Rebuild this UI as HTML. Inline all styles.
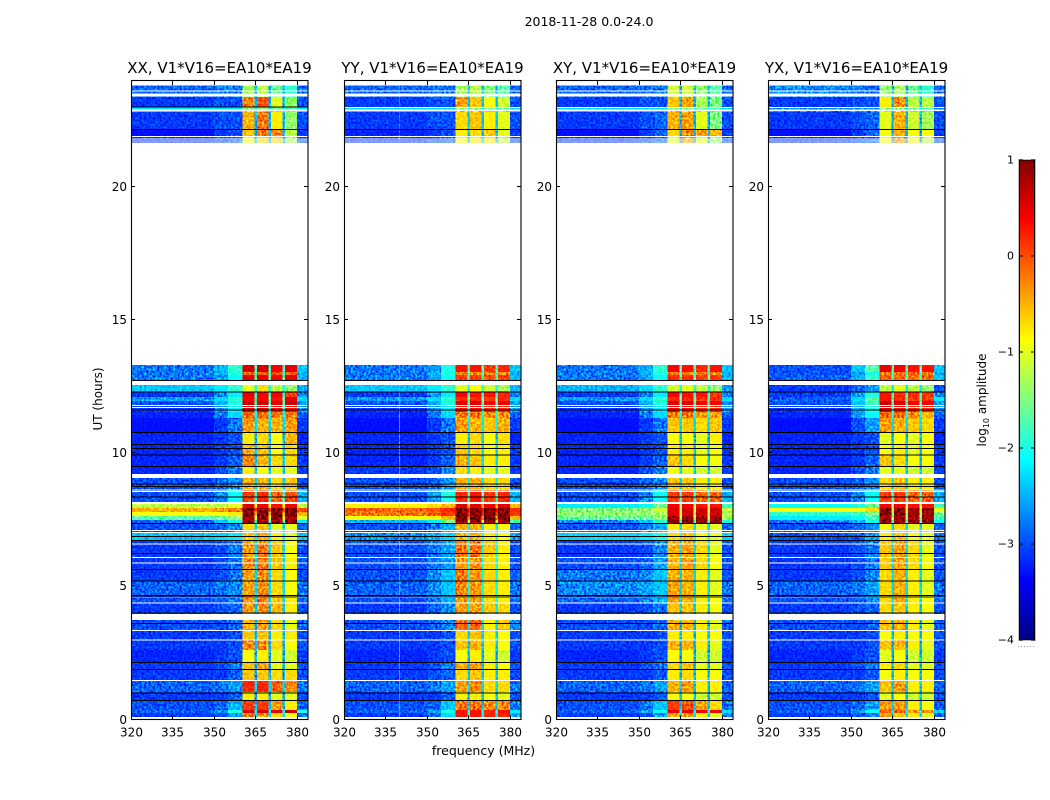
<!DOCTYPE html>
<html lang="en">
<head>
<meta charset="utf-8">
<title>2018-11-28 amplitude waterfall</title>
<style>
html,body{margin:0;padding:0;background:#fff;width:1050px;height:800px;overflow:hidden}
svg{display:block}
text{font-family:"DejaVu Sans","Liberation Sans",sans-serif;fill:#000}
</style>
</head>
<body>
<svg id="chart" xmlns="http://www.w3.org/2000/svg" width="1050" height="800" viewBox="0 0 1050 800">
<defs>
<filter id="speckle" x="0" y="0" width="100%" height="100%" color-interpolation-filters="sRGB">
<feTurbulence type="fractalNoise" baseFrequency="0.45" numOctaves="1" seed="3"/>
<feColorMatrix type="matrix" values="2 0 0 0 -0.5  2 0 0 0 -0.5  2 0 0 0 -0.5  0 0 0 0 1"/>
</filter>
</defs>
<rect x="0" y="0" width="1050" height="800" fill="#fff"/>
<text x="589" y="26" font-size="12.5" text-anchor="middle">2018-11-28 0.0-24.0</text>
<text x="483.5" y="755" font-size="12.5" text-anchor="middle">frequency (MHz)</text>
<text x="0" y="0" font-size="12" text-anchor="middle" transform="translate(102,399) rotate(-90)">UT (hours)</text>
<text x="0" y="0" font-size="12" text-anchor="middle" transform="translate(986,400) rotate(-90)">log<tspan font-size="8" dy="3">10</tspan><tspan dy="-3"> amplitude</tspan></text>
<g id="panels"></g>
<g id="colorbar"></g>
</svg>
<script>
// Time bands (UT hours), one more edge than rows
const timeEdges = [0,.24,.36,.73,1.03,1.45,1.90,2.16,2.61,2.99,3.36,3.74,4.04,4.38,4.68,5.21,5.66,6.11,6.75,7.05,7.39,7.50,7.65,7.80,7.95,8.10,8.63,9.08,9.53,9.98,10.36,10.81,11.33,11.56,11.82,11.97,12.12,12.33,12.58,12.95,13.06,13.33,21.65,21.94,22.16,22.84,23.03,23.40,23.83];
// Frequency bands (MHz), one more edge than columns
const freqEdges = [320,350,355,360.4,364.7,365.6,369.7,370.6,374.7,375.6,380,384];
// Which value in a row feeds each frequency band: bg, rise1, rise2, sb1, notch, sb2, notch, sb3, notch, sb4, outer
const bandValueIndex = [0,1,2,3,8,4,8,5,8,6,7];
const panelTitles = ["XX, V1*V16=EA10*EA19","YY, V1*V16=EA10*EA19","XY, V1*V16=EA10*EA19","YX, V1*V16=EA10*EA19"];
const xTicks = [320,335,350,365,380];
const yTicks = [0,5,10,15,20];
const cbarTicks = [1,0,-1,-2,-3,-4];
// Flagged (no data) intervals, hours
const whiteFlags = [[0,.1],[1.44,1.48],[2.97,3.01],[3.32,3.36],[3.74,3.97],[4.36,4.39],[4.58,4.61],[5.88,5.91],[6.08,6.11],[6.59,6.62],[7.01,7.05],[7.10,7.13],[8.10,8.18],[8.56,8.58],[8.61,8.64],[9.07,9.23],[11.71,11.75],[11.78,11.82],[12.58,12.73],[21.65,21.68],[21.73,21.77],[21.80,21.84],[21.89,21.93],[22.88,22.92],[23.42,23.53],[23.60,23.64]];
// Zero-amplitude integrations, hours
const blackFlags = [.73,1.02,1.90,2.17,3.63,4.02,4.62,4.68,5.22,5.65,6.25,6.75,6.90,7.38,8.38,8.78,8.88,9.53,9.97,10.20,10.35,10.80,11.66,12.32,12.76,22.19];
// Intervals flagged only in some panels: XX, YY, XY, YX
const panelWhiteExtra = [[],[[22.98,23.02]],[[22.98,23.02]],[[22.98,23.02]]];
const panelBlackExtra = [[23.04],[],[],[]];
// Single hot channel: YY panel only, MHz and log amplitude
const yyHotChannel = [339.9,-2.2];

// log10 amplitude per time band: bg, rise1, rise2, sb1, sb2, sb3, sb4, outer, notch
const xxRows = [
[-3.1,-3,-2.6,-.2,-.3,-.7,-.9,-2.8,-2.3],
[-2.9,-2.6,-2,.5,.5,.5,.6,-2,-2.1],
[-3,-2.9,-2.5,.1,.1,-.4,-.8,-2.9,-2.5],
[-3.1,-3.1,-2.95,-.8,-.8,-1,-1,-3,-2.6],
[-2.9,-2.8,-2.6,.2,.2,-.1,-.3,-2.8,-2.3],
[-3.1,-3.1,-2.9,-.6,-.6,-.7,-.7,-3,-2.6],
[-3.1,-3,-2.8,-.6,-.4,-1,-1,-3,-2.5],
[-3.2,-3.1,-3,-.9,-.8,-1,-1.1,-3.1,-2.6],
[-3.1,-3.1,-3,-.3,-.3,-.7,-.9,-3,-2.5],
[-3.1,-3.1,-3,-.6,-.6,-.8,-.8,-3,-2.5],
[-3,-3,-2.9,-.5,-.4,-.7,-1,-2.9,-2.5],
[-3,-3,-2.9,-.5,-.4,-.7,-.9,-2.9,-2.5],
[-3.1,-3,-2.9,-.4,-.3,-.5,-.8,-3,-2.4],
[-3,-2.9,-2.8,-.3,-.2,-.6,-.8,-2.9,-2.3],
[-2.9,-2.8,-2.7,-.4,-.3,-.7,-.9,-2.8,-2.3],
[-3.1,-3,-2.8,-.4,-.3,-.7,-.9,-3,-2.3],
[-3.1,-3,-2.8,-.3,-.2,-.6,-.8,-3,-2.3],
[-3.1,-3,-2.8,-.4,-.2,-.6,-.9,-3,-2.3],
[-2.4,-2.3,-2.2,-.6,-.5,-.8,-1,-2.4,-2.1],
[-3,-2.9,-2.7,-.7,-.6,-1,-1,-2.9,-2.3],
[-2.9,-2.4,-2,.9,.9,.9,.9,-2.2,-1.8],
[-1.7,-1.6,-1.4,.8,.9,.9,.8,-1,-1],
[-.9,-.9,-.8,1,1,1,1,-.5,-.5],
[-.5,-.4,-.2,1,1,1,1,0,0],
[-1.2,-1.2,-1,.5,.4,.3,.4,-1.2,-1],
[-3,-2.7,-2.1,.1,.2,-.1,0,-2.5,-1.9],
[-3,-2.9,-2.7,-.5,-.5,-.7,-.6,-3,-2.3],
[-3.2,-3,-2.8,-.8,-.9,-1,-1,-3.1,-2.4],
[-3.2,-3.1,-2.9,-.3,-.5,-.7,-.7,-3.1,-2.4],
[-3.2,-3.1,-3,-.5,-.6,-.9,-.7,-3.1,-2.4],
[-3.2,-3.1,-3,-.8,-.7,-.9,-.5,-3.2,-2.5],
[-3.3,-3.1,-2.8,-.4,-.5,-.5,-.4,-3.1,-2.3],
[-3.2,-2.8,-2.3,-.1,-.1,-.2,-.2,-2.9,-2.1],
[-3.1,-2.6,-2.2,.5,.5,.3,.3,-2.6,-1.9],
[-3,-2.5,-2,.6,.6,.5,.6,-2.6,-1.8],
[-2.6,-2.3,-1.9,.4,.4,.3,.5,-2.3,-1.7],
[-3.1,-2.7,-2.2,.5,.4,.4,.1,-2.7,-1.9],
[-2.4,-2.2,-1.9,-1,-.7,-1.2,-1.4,-2.5,-2],
[-2.8,-2.6,-2.1,.5,.5,.4,.5,-2.5,-1.7],
[-2.8,-2.5,-2,-.1,-.1,0,-.1,-2.5,-1.9],
[-2.8,-2.5,-1.9,.6,.6,.4,.5,-2.4,-1.8],
null,
[-3.1,-3,-2.9,-.9,-.7,-.7,-1.3,-3,-2.5],
[-3.3,-3.1,-3,-.6,-.2,-.3,-1.2,-3.1,-2.5],
[-3.1,-3,-3,-.5,-.2,-.8,-1.4,-3,-2.5],
[-2.2,-2.2,-2.2,-1.4,-1.4,-1.6,-1.7,-2.2,-2.1],
[-3.1,-3,-3,-.3,0,-1,-1.4,-3,-2.5],
[-2.9,-2.8,-2.8,-1.3,-1.2,-1.6,-1.9,-2.9,-2.5]
];
const yyRows = [
[-3.1,-2.9,-2.3,.3,.3,.2,.2,-2.6,-2.2],
[-2.9,-2.6,-2,.3,.3,.2,.3,-2.2,-2],
[-3,-2.9,-2.4,-.2,-.2,-.3,-.3,-2.8,-2.4],
[-3.1,-3.1,-2.95,-.8,-.8,-.9,-1,-3,-2.5],
[-2.9,-2.8,-2.6,-.4,-.3,-.7,-.7,-2.8,-2.3],
[-3.1,-3,-2.9,-.7,-.6,-.8,-.8,-3,-2.4],
[-3.1,-3,-2.8,-.5,-.4,-.8,-.9,-3,-2.4],
[-3.2,-3.1,-3,-.9,-.8,-1,-1.1,-3.1,-2.5],
[-3.1,-3.1,-3,-.6,-.5,-.8,-.9,-3,-2.4],
[-3.1,-3.1,-3,-.7,-.6,-.8,-.9,-3,-2.4],
[-3,-2.9,-2.7,-.1,-.1,-.8,-.6,-2.7,-2.3],
[-3,-2.9,-2.7,-.3,-.3,-.6,-.8,-2.9,-2.3],
[-3.1,-2.9,-2.7,-.4,-.4,-.6,-.7,-3,-2.2],
[-3,-2.8,-2.5,-.4,-.4,-.7,-.8,-2.9,-2.1],
[-2.9,-2.7,-2.4,-.3,-.4,-.7,-.8,-2.8,-2.1],
[-3,-2.7,-2.4,-.2,-.4,-.7,-.8,-2.9,-2.1],
[-3,-2.8,-2.6,-.4,-.3,-.7,-.8,-3,-2.1],
[-3,-2.8,-2.6,-.2,-.2,-.6,-.8,-3,-2.1],
[-2.7,-2.5,-2.3,-.5,-.5,-.8,-.9,-2.6,-2],
[-3,-2.8,-2.5,-.5,-.5,-.8,-.9,-2.9,-2.2],
[-2.5,-2.2,-1.5,.9,.9,.9,.9,-1.8,-1.2],
[-.9,-.8,-.5,1,1,1,1,-.5,-.3],
[-.2,-.1,.1,1,1,1,1,.1,.2],
[-.1,0,.2,1,1,1,1,.2,.3],
[-.8,-.7,-.5,.5,.5,.4,.5,-.6,-.5],
[-3,-2.6,-2,.2,.3,.1,.2,-2.5,-1.8],
[-3,-2.9,-2.6,-.5,-.5,-.7,-.7,-3,-2.2],
[-3.1,-3,-2.7,-.7,-.8,-1,-1,-3.1,-2.3],
[-3.2,-3.1,-2.9,-.5,-.6,-.8,-.8,-3.1,-2.3],
[-3.2,-3.1,-3,-.6,-.7,-.9,-.8,-3.1,-2.3],
[-3.2,-3.1,-3,-.8,-.7,-.9,-.7,-3.2,-2.4],
[-3.3,-3.1,-2.8,-.4,-.5,-.6,-.5,-3.1,-2.2],
[-3.2,-2.8,-2.3,-.2,-.2,-.3,-.3,-2.9,-2],
[-3.1,-2.6,-2.2,.3,.3,.2,.2,-2.6,-1.9],
[-3,-2.5,-2,.5,.5,.4,.4,-2.6,-1.8],
[-2.6,-2.3,-1.9,.2,.2,.1,.2,-2.3,-1.7],
[-3.1,-2.7,-2.2,.4,.3,.3,.2,-2.7,-1.9],
[-2.4,-2.2,-1.9,-1,-.9,-1.1,-1.3,-2.5,-2],
[-2.8,-2.6,-2.1,.1,.1,0,.1,-2.5,-1.7],
[-2.8,-2.5,-2,-.3,-.3,-.2,-.3,-2.5,-1.9],
[-2.8,-2.6,-2,.3,.3,.1,.2,-2.4,-1.8],
null,
[-3.1,-3,-2.9,-.9,-.8,-.8,-1.2,-3,-2.4],
[-3.2,-3.1,-3,-.8,-.7,-.6,-1,-3.1,-2.4],
[-3.1,-3,-3,-.7,-.6,-.8,-1,-3,-2.4],
[-2.3,-2.3,-2.3,-1.5,-1.5,-1.6,-1.7,-2.3,-2.1],
[-3.1,-3,-3,-.4,-.6,-.9,-1.1,-3,-2.4],
[-2.9,-2.8,-2.8,-1.3,-1.2,-1.5,-1.7,-2.9,-2.4]
];
const xyRows = [
[-3.1,-3,-2.6,-.4,-.4,-.8,-1,-2.7,-2.3],
[-2.9,-2.6,-2.1,.5,.5,.4,.4,-2.3,-2.1],
[-3,-2.8,-2.4,.1,0,-.4,-.7,-2.8,-2.4],
[-3.1,-3.1,-2.95,-.9,-.9,-1.1,-1.1,-3,-2.5],
[-2.9,-2.8,-2.6,-.5,-.4,-.8,-.8,-2.9,-2.4],
[-3.1,-3.1,-2.95,-.8,-.7,-.9,-.9,-3,-2.5],
[-3.1,-3,-2.8,-.7,-.6,-1,-1,-3,-2.5],
[-3.2,-3.1,-3,-.9,-.9,-1.1,-1.1,-3.1,-2.6],
[-3.1,-3.1,-3,-.5,-.5,-.8,-1,-3,-2.5],
[-3.1,-3.1,-3,-.8,-.8,-.9,-.9,-3,-2.5],
[-3,-3,-2.9,-.5,-.5,-.8,-1,-2.9,-2.5],
[-3,-3,-2.9,-.5,-.6,-.8,-1,-2.9,-2.5],
[-3.1,-3,-2.8,-.6,-.6,-.8,-.9,-3,-2.4],
[-2.9,-2.7,-2.5,-.4,-.5,-.8,-.9,-2.9,-2.3],
[-2.7,-2.6,-2.4,-.4,-.5,-.8,-1,-2.8,-2.3],
[-2.8,-2.7,-2.4,-.5,-.5,-.8,-1,-3,-2.3],
[-3,-2.9,-2.6,-.5,-.4,-.7,-.9,-3,-2.3],
[-3.1,-3,-2.7,-.5,-.4,-.7,-1,-3,-2.3],
[-2.3,-2.2,-2,-.7,-.6,-.9,-1,-2.3,-2],
[-3,-2.8,-2.5,-.8,-.7,-1,-1,-2.9,-2.3],
[-2.7,-2.4,-1.9,.9,.9,.9,.9,-2,-1.7],
[-1.6,-1.6,-1.4,.9,.9,.9,.8,-1.3,-1.2],
[-1.4,-1.4,-1.3,.5,.6,.6,.6,-1.3,-1.2],
[-1.5,-1.4,-1.1,.5,.6,.6,.6,-1.2,-1],
[-2.2,-2.1,-1.6,.4,.4,.3,.3,-1.8,-1.4],
[-3,-2.7,-2.1,.1,.1,-.1,-.1,-2.5,-1.9],
[-3,-2.9,-2.7,-.6,-.6,-.8,-.8,-3,-2.3],
[-3.2,-3,-2.8,-.9,-1,-1.1,-1.1,-3.1,-2.4],
[-3.2,-3.1,-2.9,-.6,-.7,-.9,-.9,-3.1,-2.4],
[-3.2,-3.1,-3,-.8,-.8,-1,-.9,-3.1,-2.4],
[-3.2,-3.1,-3,-.9,-.9,-1,-.8,-3.2,-2.5],
[-3.3,-3.1,-2.8,-.6,-.6,-.7,-.6,-3.1,-2.3],
[-3.2,-2.8,-2.3,-.2,-.2,-.4,-.4,-2.9,-2.1],
[-3.1,-2.6,-2.2,.4,.3,.2,.2,-2.6,-1.9],
[-3,-2.5,-2,.5,.5,.4,.4,-2.6,-1.8],
[-2.6,-2.3,-1.9,.2,.2,.1,.2,-2.3,-1.7],
[-3.1,-2.7,-2.2,.4,.3,.3,.1,-2.7,-1.9],
[-2.5,-2.3,-1.9,-1.1,-1,-1.2,-1.4,-2.6,-2],
[-2.8,-2.6,-2.1,.2,.2,.1,.1,-2.5,-1.7],
[-2.8,-2.5,-2,-.3,-.3,-.2,-.3,-2.5,-1.9],
[-2.8,-2.5,-1.9,.4,.3,.2,.3,-2.4,-1.8],
null,
[-3.1,-3,-2.9,-1,-.4,-1,-1.4,-3,-2.5],
[-3.3,-3.1,-2.9,-.7,-.3,-.4,-.5,-3.1,-2.5],
[-3.1,-3,-2.9,-.5,-.4,-1,-1.5,-3,-2.5],
[-2.3,-2.3,-2.3,-1.5,-1.5,-1.6,-1.8,-2.3,-2.1],
[-3.1,-3,-3,-.6,-.4,-1.3,-1.5,-3,-2.5],
[-2.9,-2.8,-2.8,-1.1,-1.1,-1.4,-1.7,-2.9,-2.5]
];
const yxRows = [
[-3.1,-3,-2.7,-.4,-.6,-.8,-1,-2.9,-2.3],
[-2.9,-2.6,-2.1,-.1,-.1,-.3,-.3,-2.3,-2.1],
[-3,-2.9,-2.6,-.4,-.4,-.8,-.9,-2.9,-2.4],
[-3.1,-3.1,-2.95,-1,-.9,-1.1,-1.1,-3,-2.5],
[-2.9,-2.8,-2.6,-.6,-.4,-.8,-.8,-2.9,-2.4],
[-3.1,-3.1,-2.95,-.9,-.8,-.9,-.9,-3,-2.5],
[-3.1,-3,-2.8,-.8,-.7,-1,-1,-3,-2.5],
[-3.2,-3.1,-3,-1,-.9,-1.1,-1.1,-3.1,-2.6],
[-3.1,-3.1,-3,-.6,-.5,-.8,-1,-3,-2.5],
[-3.1,-3.1,-3,-.9,-.8,-.9,-.9,-3,-2.5],
[-3,-3,-2.9,-.6,-.5,-.8,-1,-2.9,-2.5],
[-3,-3,-2.9,-.7,-.6,-.8,-1,-2.9,-2.5],
[-3.1,-3,-2.9,-.7,-.6,-.8,-.9,-3,-2.4],
[-3,-2.9,-2.7,-.7,-.5,-.8,-.9,-2.9,-2.3],
[-2.9,-2.8,-2.6,-.7,-.5,-.8,-1,-2.8,-2.3],
[-3.1,-3,-2.7,-.7,-.5,-.8,-1,-3,-2.3],
[-3.1,-3,-2.8,-.6,-.4,-.7,-.9,-3,-2.3],
[-3.1,-3,-2.8,-.6,-.4,-.7,-1,-3,-2.3],
[-3,-2.9,-2.6,-.8,-.6,-.9,-1,-2.9,-2.1],
[-3,-2.9,-2.7,-.9,-.7,-1,-1,-2.9,-2.3],
[-2.8,-2.5,-2,.9,.9,.9,.9,-2.1,-1.8],
[-2.2,-2.1,-1.8,.8,.8,.8,.8,-1.8,-1.4],
[-1.9,-1.8,-1.5,1,1,.9,.9,-1.5,-1.2],
[-.9,-.9,-.7,1,1,.9,.9,-1,-.8],
[-2.1,-2,-1.6,.4,.4,.3,.3,-1.8,-1.4],
[-3,-2.7,-2.1,.1,.1,-.1,-.1,-2.5,-1.9],
[-3,-2.9,-2.7,-.7,-.6,-.8,-.8,-3,-2.3],
[-3.2,-3,-2.8,-1,-1,-1.1,-1.1,-3.1,-2.4],
[-3.2,-3.1,-2.9,-.6,-.7,-.9,-.9,-3.1,-2.4],
[-3.2,-3.1,-3,-.9,-.8,-1,-.9,-3.1,-2.4],
[-3.2,-3.1,-3,-1,-.9,-1,-.9,-3.2,-2.5],
[-3.3,-3,-2.6,-.4,-.5,-.6,-.7,-3.1,-2.3],
[-3.2,-2.6,-2.1,-.1,-.1,-.3,-.5,-2.9,-2.1],
[-3.1,-2.5,-2,.5,.3,.2,.2,-2.6,-1.9],
[-3,-2.4,-1.8,.6,.5,.4,.4,-2.6,-1.8],
[-2.9,-2.3,-1.7,.3,.2,.1,.1,-2.2,-1.7],
[-3.1,-2.6,-2,.3,.2,.2,.1,-2.7,-1.9],
[-3.1,-2.9,-2.6,-1.2,-1,-1.2,-1.4,-3,-2.2],
[-2.9,-2.5,-1.9,-.1,-.1,-.1,-.1,-2.4,-1.8],
[-3,-2.6,-2,-.2,-.2,-.1,-.2,-2.5,-1.9],
[-3,-2.4,-1.7,.5,.4,.3,.3,-2.4,-1.8],
null,
[-3.1,-3,-2.9,-.9,-.4,-.9,-1.2,-3,-2.5],
[-3.3,-3.1,-2.9,-.9,-.5,-.9,-.9,-3.1,-2.5],
[-3.1,-3,-2.9,-1,-.5,-1.1,-1.3,-3,-2.5],
[-2.7,-2.7,-2.7,-1.5,-1.5,-1.6,-1.8,-2.7,-2.3],
[-3.1,-3,-3,-.8,-.3,-1.2,-1.2,-3,-2.5],
[-2.7,-2.8,-2.9,-1.4,-1.3,-1.6,-1.9,-2.9,-2.5]
];
const panelRows = [xxRows,yyRows,xyRows,yxRows];

// Layout (not data)
const NS = "http://www.w3.org/2000/svg";
const panelLefts = [131,344,556,768];
const panelWidth = 177;
const axisTop = 81;
const axisBottom = 719.5;
const cbarLeft = 1019, cbarRight = 1035, cbarTop = 160, cbarBottom = 640;
const freqMin = 320, freqMax = 384, timeMin = 0, timeMax = 24, ampMin = -4, ampMax = 1;

function xScale(left, mhz){ return left + (mhz - freqMin) / (freqMax - freqMin) * panelWidth; }
function yScale(h){ return axisBottom - (h - timeMin) / (timeMax - timeMin) * (axisBottom - axisTop); }
function cbarScale(v){ return cbarBottom - (v - ampMin) / (ampMax - ampMin) * (cbarBottom - cbarTop); }
function jet(v){
  const t = Math.max(0, Math.min(1, (v - ampMin) / (ampMax - ampMin)));
  const ch = s => Math.round(255 * Math.max(0, Math.min(1, 1.5 - Math.abs(4 * t - s))));
  return "rgb(" + ch(3) + "," + ch(2) + "," + ch(1) + ")";
}
function make(tag, attrs, parent){
  const el = document.createElementNS(NS, tag);
  for (const k in attrs) el.setAttribute(k, attrs[k]);
  parent.appendChild(el);
  return el;
}

const panelsRoot = document.getElementById("panels");
panelRows.forEach(function(rows, p){
  const left = panelLefts[p];
  const right = left + panelWidth;
  const g = make("g", {}, panelsRoot);
  
  

  const cells = make("g", {"shape-rendering":"crispEdges"}, g);
  
  
  rows.forEach(function(row, r){
    if (!row) return;
    const y0 = yScale(timeEdges[r+1]), y1 = yScale(timeEdges[r]);
    bandValueIndex.forEach(function(vi, c){
      const x0 = xScale(left, freqEdges[c]), x1 = xScale(left, freqEdges[c+1]);
      const cell = make("rect", {x:x0.toFixed(2), y:y0.toFixed(2), width:(x1-x0).toFixed(2), height:(y1-y0).toFixed(2), fill:jet(row[vi])}, cells);
      
      
    });
  });
  if (p === 1) {
    const hot = make("rect", {x:xScale(left,yyHotChannel[0]).toFixed(2), y:yScale(timeEdges[41]).toFixed(2), width:1, height:(yScale(0)-yScale(timeEdges[41])).toFixed(2), fill:jet(yyHotChannel[1]), opacity:.7}, cells);
    
    
    const hot2 = make("rect", {x:xScale(left,yyHotChannel[0]).toFixed(2), y:yScale(timeEdges[48]).toFixed(2), width:1, height:(yScale(timeEdges[42])-yScale(timeEdges[48])).toFixed(2), fill:jet(yyHotChannel[1]), opacity:.4}, cells);
    
    
  }
  // Speckle texture over the data blocks, purely decorative
  [[0,41],[42,48]].forEach(function(b){
    const s = make("rect", {x:left, y:yScale(timeEdges[b[1]]).toFixed(2), width:panelWidth, height:(yScale(timeEdges[b[0]])-yScale(timeEdges[b[1]])).toFixed(2), filter:"url(#speckle)", style:"mix-blend-mode:overlay"}, cells);
    
    
  });
  whiteFlags.concat(panelWhiteExtra[p]).forEach(function(f){
    const y0 = yScale(f[1]), y1 = yScale(f[0]);
    const w = make("rect", {x:left, y:y0.toFixed(2), width:panelWidth, height:Math.max(1,y1-y0).toFixed(2), fill:"#fff"}, cells);
    
    
  });
  blackFlags.concat(panelBlackExtra[p]).forEach(function(h){
    const b = make("rect", {x:left, y:yScale(h).toFixed(2), width:panelWidth, height:1, fill:"#000"}, cells);
    
    
  });

  const frame = make("rect", {x:left+.5, y:axisTop-.5, width:panelWidth-.5, height:axisBottom-axisTop+.5, fill:"none", stroke:"#000", "stroke-width":1.1}, g);
  
  

  xTicks.forEach(function(t){
    const x = Math.round(xScale(left,t)) + .5;
    const a = make("line", {x1:x, x2:x, y1:axisBottom, y2:axisBottom-4, stroke:"#000", "stroke-width":1}, g);
    
    
    const b = make("line", {x1:x, x2:x, y1:axisTop, y2:axisTop+4, stroke:"#000", "stroke-width":1}, g);
    
    
    const l = make("text", {x:x, y:axisBottom+17, "font-size":12, "text-anchor":"middle"}, g);
    
    
    l.textContent = t;
  });
  yTicks.forEach(function(t){
    const y = Math.round(yScale(t)) - .5;
    const a = make("line", {x1:left, x2:left+4, y1:y, y2:y, stroke:"#000", "stroke-width":1}, g);
    
    
    const b = make("line", {x1:right, x2:right-4, y1:y, y2:y, stroke:"#000", "stroke-width":1}, g);
    
    
    const l = make("text", {x:left-4, y:y+4.5, "font-size":12, "text-anchor":"end"}, g);
    
    
    l.textContent = t;
  });
  const title = make("text", {x:left+panelWidth/2, y:axisTop-8, "font-size":15, "text-anchor":"middle"}, g);
  
  
  title.textContent = panelTitles[p];
});

// Colorbar
const cb = document.getElementById("colorbar");
const ramp = make("g", {"shape-rendering":"crispEdges"}, cb);


for (let y = cbarTop; y < cbarBottom; y += 2) {
  const v = ampMax - (y + 1 - cbarTop) / (cbarBottom - cbarTop) * (ampMax - ampMin);
  const s = make("rect", {x:cbarLeft, y:y, width:cbarRight-cbarLeft, height:2, fill:jet(v)}, ramp);
  
  
}
const cbFrame = make("rect", {x:cbarLeft+.5, y:cbarTop, width:cbarRight-cbarLeft-1, height:cbarBottom-cbarTop, fill:"none", stroke:"#000", "stroke-width":1}, cb);


const cbOuter = make("rect", {x:cbarLeft-.5, y:cbarTop-.5, width:cbarRight-cbarLeft+1, height:cbarBottom-cbarTop+1, fill:"none", stroke:"#bbb", "stroke-width":1}, cb);


cbarTicks.forEach(function(t){
  const y = Math.round(cbarScale(t));
  const a = make("line", {x1:cbarLeft, x2:cbarLeft+4, y1:y, y2:y, stroke:"#000", "stroke-width":1}, cb);
  
  
  const b = make("line", {x1:cbarRight, x2:cbarRight-4, y1:y, y2:y, stroke:"#000", "stroke-width":1}, cb);
  
  
  const l = make("text", {x:cbarLeft-5, y:y+3.5, "font-size":11, "text-anchor":"end"}, cb);
  
  
  l.textContent = t < 0 ? "\u2212" + Math.abs(t) : String(t);
});
const dots = make("line", {x1:cbarLeft-1, x2:cbarRight, y1:646.5, y2:646.5, stroke:"#999", "stroke-width":1, "stroke-dasharray":"1 2"}, cb);


</script>
</body>
</html>
